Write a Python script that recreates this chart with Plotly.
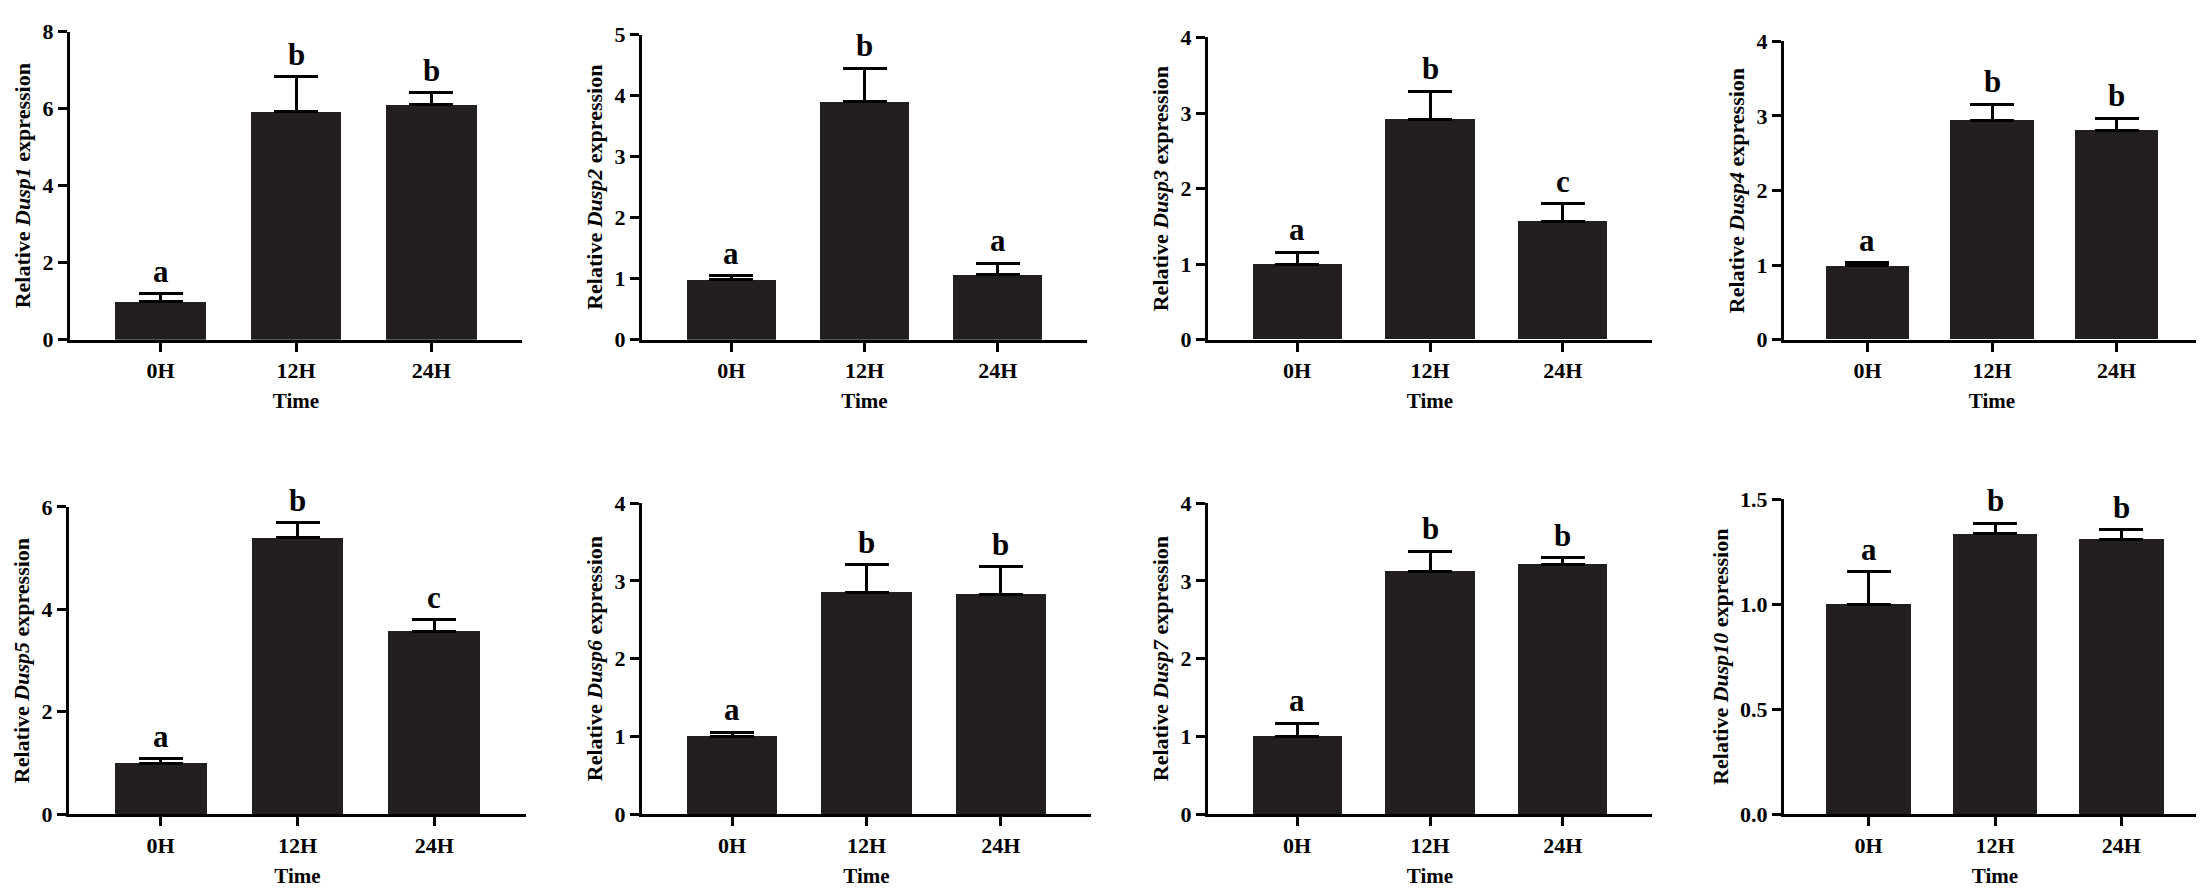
import plotly.graph_objects as go

# categories
times = ["0H", "12H", "24H"]
genes = ["Dusp1", "Dusp2", "Dusp3", "Dusp4", "Dusp5", "Dusp6", "Dusp7", "Dusp10"]

# mean relative expression
dusp1_mean = [1.00, 5.93, 6.10]
dusp2_mean = [0.99, 3.91, 1.07]
dusp3_mean = [1.00, 2.92, 1.56]
dusp4_mean = [0.99, 2.94, 2.81]
dusp5_mean = [0.99, 5.40, 3.57]
dusp6_mean = [1.00, 2.85, 2.83]
dusp7_mean = [1.00, 3.12, 3.21]
dusp10_mean = [1.00, 1.335, 1.31]

# upper error bar length (SD)
dusp1_sd = [0.20, 0.90, 0.32]
dusp2_sd = [0.06, 0.54, 0.18]
dusp3_sd = [0.16, 0.37, 0.24]
dusp4_sd = [0.04, 0.22, 0.16]
dusp5_sd = [0.09, 0.29, 0.23]
dusp6_sd = [0.05, 0.36, 0.35]
dusp7_sd = [0.17, 0.26, 0.09]
dusp10_sd = [0.155, 0.05, 0.045]

# significance letters
dusp1_sig = ["a", "b", "b"]
dusp2_sig = ["a", "b", "a"]
dusp3_sig = ["a", "b", "c"]
dusp4_sig = ["a", "b", "b"]
dusp5_sig = ["a", "b", "c"]
dusp6_sig = ["a", "b", "b"]
dusp7_sig = ["a", "b", "b"]
dusp10_sig = ["a", "b", "b"]

# y axis top and tick step per gene
y_max = [8, 5, 4, 4, 6, 4, 4, 1.5]
y_step = [2, 1, 1, 1, 2, 1, 1, 0.5]

means = [dusp1_mean, dusp2_mean, dusp3_mean, dusp4_mean,
         dusp5_mean, dusp6_mean, dusp7_mean, dusp10_mean]
sds = [dusp1_sd, dusp2_sd, dusp3_sd, dusp4_sd,
       dusp5_sd, dusp6_sd, dusp7_sd, dusp10_sd]
sigs = [dusp1_sig, dusp2_sig, dusp3_sig, dusp4_sig,
        dusp5_sig, dusp6_sig, dusp7_sig, dusp10_sig]

W, H = 2204, 893
FONT = "Liberation Serif, Times New Roman, serif"
BAR = "#231F20"

# panel boxes in pixels: (left, right, top-of-range, zero line)
boxes = [
    (62, 514, 12, 329), (634, 1079, 15, 329),
    (1200, 1644, 18, 329), (1776, 2192, 22, 329),
    (61, 518, 501, 817), (634, 1083, 497, 817),
    (1200, 1644, 497, 817), (1776, 2198, 493, 817),
]


def bold_font(size):
    return dict(family=FONT, size=size, color="black", weight="bold")


fig = go.Figure()
annotations = []
for i, gene in enumerate(genes):
    n = "" if i == 0 else str(i + 1)
    xa, ya = "x" + n, "y" + n
    fig.add_trace(go.Bar(
        x=times, y=means[i],
        width=0.67,
        marker=dict(color=BAR, line=dict(width=0)),
        error_y=dict(type="data", symmetric=False, array=sds[i],
                     arrayminus=[0, 0, 0], color="black",
                     thickness=3, width=22),
        xaxis=xa, yaxis=ya,
        showlegend=False, hoverinfo="skip",
    ))
    for t, m, s, lab in zip(times, means[i], sds[i], sigs[i]):
        annotations.append(dict(
            x=t, y=m + s, xref=xa, yref=ya, text=lab,
            showarrow=False, yanchor="bottom", yshift=3,
            font=bold_font(31),
        ))

    left, right, top, zero = boxes[i]
    ax_common = dict(
        showline=True, linecolor="black", linewidth=3,
        ticks="outside", tickcolor="black", tickwidth=3, ticklen=9,
        showgrid=False, zeroline=False,
        tickfont=bold_font(22),
    )
    fig.layout["xaxis" + n] = dict(
        ax_common,
        domain=[left / W, right / W], anchor=ya,
        range=[-0.67, 2.67], type="category",
        title=dict(text="Time", standoff=12, font=bold_font(21)),
    )
    fig.layout["yaxis" + n] = dict(
        ax_common,
        domain=[1 - zero / H, 1 - top / H], anchor=xa,
        range=[0, y_max[i]], dtick=y_step[i], tick0=0,
        tickformat=".1f" if y_step[i] < 1 else "d",
        title=dict(text=f"Relative <i>{gene}</i> expression", standoff=6,
                   font=bold_font(22)),
    )

fig.update_layout(
    width=W, height=H,
    margin=dict(l=0, r=0, t=0, b=0),
    paper_bgcolor="white", plot_bgcolor="white",
    bargap=0, annotations=annotations,
)

fig.write_html("out.html")
